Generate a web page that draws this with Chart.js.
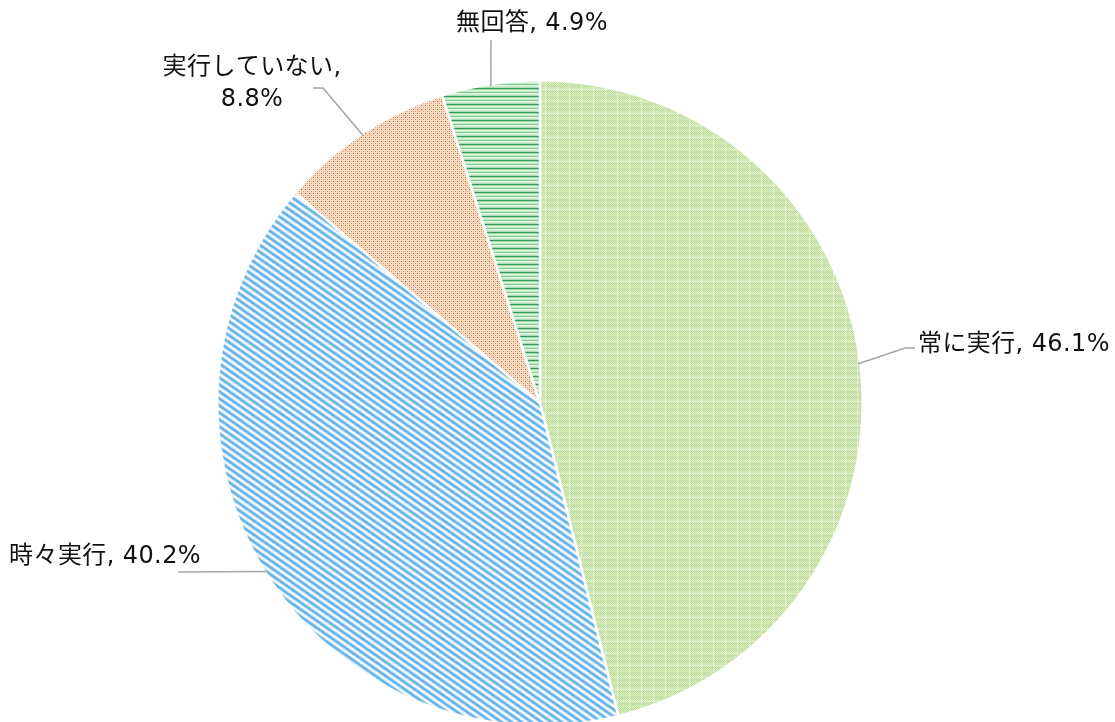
<!DOCTYPE html>
<html>
<head>
<meta charset="utf-8">
<script src="https://cdn.jsdelivr.net/npm/chart.js@4/dist/chart.umd.min.js"></script>
<style>
  html, body { margin: 0; padding: 0; background: #fff; overflow: hidden; }
  canvas { display: block; }
</style>
</head>
<body>
<canvas id="pie" width="1115" height="730"></canvas>
<script>
const labels = ['常に実行', '時々実行', '実行していない', '無回答'];
const values = [46.1, 40.2, 8.8, 4.9];

// small repeating tiles used as slice fills
function tile(w, h, paint) {
  const c = document.createElement('canvas');
  c.width = w; c.height = h;
  const g = c.getContext('2d');
  paint(g, w, h);
  return g.createPattern(c, 'repeat');
}

const greenTexture = tile(12, 12, (g, w, h) => {
  g.fillStyle = '#d6ecbd';
  g.fillRect(0, 0, w, h);
  for (let y = 0; y < h; y++) {
    for (let x = 0; x < w; x++) {
      if ((x + y) % 2 === 0) {
        g.fillStyle = (y % 6 < 3) ? '#b9d996' : '#c6e2a6';
        g.fillRect(x, y, 1, 1);
      }
    }
  }
  g.fillStyle = 'rgba(255,255,255,0.4)';
  g.fillRect(0, 5, w, 1);
  g.fillRect(5, 0, 1, h);
});

const blueStripes = tile(10, 7, (g, w, h) => {
  g.fillStyle = '#cce6f9';
  g.fillRect(0, 0, w, h);
  g.lineCap = 'square';
  [-w, 0, w].forEach(dx => {
    g.strokeStyle = '#66b3ea';
    g.lineWidth = 2.4;
    g.beginPath(); g.moveTo(dx, 0); g.lineTo(dx + w, h); g.stroke();
    g.strokeStyle = '#f5fafe';
    g.lineWidth = 1.6;
    g.beginPath(); g.moveTo(dx + 5, 0); g.lineTo(dx + 5 + w, h); g.stroke();
  });
});

const peachDots = tile(4, 4, (g, w, h) => {
  g.fillStyle = '#fcdcbf';
  g.fillRect(0, 0, w, h);
  g.fillStyle = '#9c6446';
  g.fillRect(1, 1, 1, 1);
  g.fillStyle = '#d99c7e';
  g.fillRect(3, 3, 1, 1);
  g.fillStyle = '#f0b89a';
  g.fillRect(3, 1, 1, 1);
  g.fillRect(1, 3, 1, 1);
});

const greenStripes = tile(4, 8, (g, w, h) => {
  const rows = ['#35985a', '#9fdbab', '#dcf4dc', '#c2ebc7', '#7dcd92', '#e6f7e5', '#cdeed1', '#acdfb5'];
  rows.forEach((col, i) => {
    g.fillStyle = col;
    g.fillRect(0, i, w, 1);
  });
});

const fills = [greenTexture, blueStripes, peachDots, greenStripes];

// label placement: leader path after the slice edge point, and text block
const labelLayout = [
  { path: [[905, 348], [915, 348]], text: ['常に実行, 46.1%'], x: 918, y: 345, align: 'left' },
  { path: [[178, 572]], text: ['時々実行, 40.2%'], x: 201, y: 557, align: 'right' },
  { path: [[323, 88], [313, 88]], text: ['実行していない,', '8.8%'], x: 252, y: 68, align: 'center' },
  { path: [[491, 40]], text: ['無回答, 4.9%'], x: 532, y: 24, align: 'center' }
];

const leaderLabels = {
  id: 'leaderLabels',
  afterDatasetsDraw(chart) {
    const ctx = chart.ctx;
    const meta = chart.getDatasetMeta(0);
    ctx.save();
    meta.data.forEach((arc, i) => {
      const p = arc.getProps(['x', 'y', 'startAngle', 'endAngle', 'outerRadius'], true);
      const mid = (p.startAngle + p.endAngle) / 2;
      const ex = p.x + Math.cos(mid) * (p.outerRadius - 2);
      const ey = p.y + Math.sin(mid) * (p.outerRadius - 2);
      const lay = labelLayout[i];
      ctx.strokeStyle = '#a5a5a5';
      ctx.lineWidth = 1.5;
      ctx.beginPath();
      ctx.moveTo(ex, ey);
      lay.path.forEach(pt => ctx.lineTo(pt[0], pt[1]));
      ctx.stroke();

      ctx.fillStyle = '#111';
      ctx.font = '24px "DejaVu Sans", "Noto Sans CJK JP", sans-serif';
      ctx.letterSpacing = '0.4px';
      ctx.textAlign = lay.align;
      ctx.textBaseline = 'middle';
      lay.text.forEach((line, k) => ctx.fillText(line, lay.x, lay.y + k * 32));
    });
    ctx.restore();
  }
};

new Chart(document.getElementById('pie'), {
  type: 'pie',
  data: {
    labels: labels,
    datasets: [{
      data: values,
      backgroundColor: fills,
      borderColor: '#ffffff',
      borderWidth: 2.5
    }]
  },
  options: {
    responsive: false,
    animation: false,
    layout: { padding: { left: 216, right: 251, top: 79, bottom: 3 } },
    plugins: {
      legend: { display: false },
      tooltip: { enabled: false }
    }
  },
  plugins: [leaderLabels]
});
</script>
</body>
</html>
